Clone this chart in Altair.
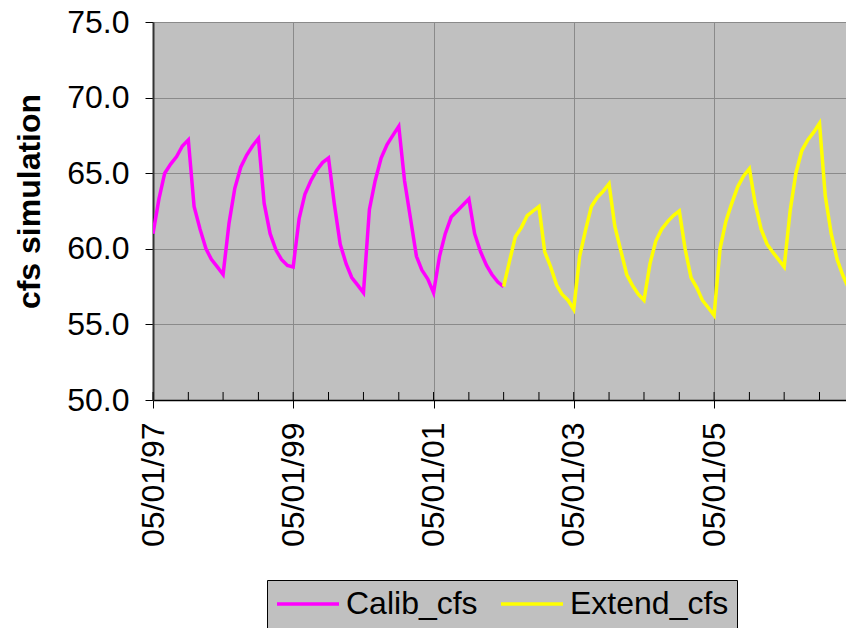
import altair as alt
import pandas as pd

# Monthly dates, May 1997 .. May 2007
dates = pd.date_range("1997-05-01", "2007-05-01", freq="MS").strftime("%Y-%m-%d").tolist()

calib_cfs = [
    61.0, 63.3, 65.0, 65.6, 66.1, 66.8, 67.2, 62.8, 61.3, 60.0, 59.3, 58.8,
    58.3, 61.7, 64.0, 65.4, 66.2, 66.8, 67.3, 63.0, 61.0, 59.9, 59.3, 58.9,
    58.8, 62.0, 63.6, 64.5, 65.2, 65.7, 66.0, 63.0, 60.3, 59.0, 58.1, 57.6,
    57.1, 62.6, 64.5, 66.0, 66.9, 67.5, 68.1, 64.5, 62.0, 59.5, 58.6, 58.0,
    57.1, 59.5, 61.0, 62.1, 62.5, 62.9, 63.3, 61.0, 59.8, 58.9, 58.3, 57.8,
    57.5,
]
extend_cfs = [
    57.5, 59.2, 60.8, 61.4, 62.2, 62.5, 62.8, 59.8, 58.8, 57.6, 57.0, 56.6,
    56.0, 59.5, 61.2, 62.8, 63.4, 63.8, 64.3, 61.5, 59.9, 58.3, 57.6, 57.0,
    56.6, 59.0, 60.5, 61.3, 61.8, 62.2, 62.5, 60.0, 58.1, 57.4, 56.6, 56.1,
    55.6, 60.0, 61.8, 63.0, 64.1, 64.8, 65.3, 63.0, 61.3, 60.3, 59.8, 59.3,
    58.8, 62.5, 65.0, 66.5, 67.2, 67.7, 68.3, 63.5, 61.0, 59.3, 58.3, 57.4,
    56.8,
]
series_names = ["Calib_cfs", "Extend_cfs"]
series_colors = ["#FF00FF", "#FFFF00"]
y_ticks = [50, 55, 60, 65, 70, 75]
x_label_dates = ["1997-05-01", "1999-05-01", "2001-05-01", "2003-05-01", "2005-05-01"]
minor_tick_dates = dates[::6]

rows = []
for d, v in zip(dates[:len(calib_cfs)], calib_cfs):
    rows.append({"date": d, "value": v, "series": series_names[0]})
for d, v in zip(dates[len(calib_cfs) - 1:], extend_cfs):
    rows.append({"date": d, "value": v, "series": series_names[1]})
df = pd.DataFrame(rows)
ticks_df = pd.DataFrame({"date": minor_tick_dates})

FONT = "Liberation Sans"

x_scale = alt.Scale(type="utc", domain=[alt.DateTime(year=1997, month=5, date=1, utc=True),
                                        alt.DateTime(year=2007, month=3, date=19, utc=True)])

x_vals = [alt.DateTime(year=int(s[:4]), month=int(s[5:7]), date=int(s[8:]), utc=True) for s in x_label_dates]

lines = alt.Chart(df).mark_line(strokeWidth=3.5, clip=True).encode(
    x=alt.X("date:T", scale=x_scale,
            axis=alt.Axis(values=x_vals, format="%m/%d/%y", labelAngle=270,
                          labelFontSize=32, labelFont=FONT, labelColor="black",
                          labelPadding=14, tickSize=8, tickColor="black",
                          domainColor="black", domainWidth=1.5,
                          grid=True, gridColor="#8a8a8a", gridWidth=1,
                          title=None, labelOverlap=False)),
    y=alt.Y("value:Q", scale=alt.Scale(domain=[50, 75], nice=False, zero=False),
            axis=alt.Axis(values=y_ticks, format=".1f", labelFontSize=32, labelFont=FONT,
                          labelColor="black", labelPadding=16, tickSize=8, tickColor="black",
                          domainColor="#333333", domainWidth=2,
                          grid=True, gridColor="#8a8a8a", gridWidth=1,
                          title="cfs simulation", titleFontSize=32, titleFont=FONT,
                          titleFontWeight="bold", titleColor="black",
                          titleAngle=270, titleAlign="center", titleBaseline="alphabetic",
                          titleX=-114, titleY=179)),
    color=alt.Color("series:N", scale=alt.Scale(domain=series_names, range=series_colors),
                    legend=alt.Legend(orient="none", legendX=114, legendY=558,
                                      direction="horizontal", title=None,
                                      fillColor="#C0C0C0", strokeColor="black",
                                      padding=8, symbolType="M-3,0H3", symbolSize=427,
                                      symbolOffset=17, gridAlign="none",
                                      symbolStrokeWidth=3.5, labelFontSize=32, labelFont=FONT,
                                      labelColor="black", labelOffset=22, columnPadding=16)),
    detail="series:N",
)

minor = alt.Chart(ticks_df).mark_rule(color="black", strokeWidth=1).encode(
    x=alt.X("date:T", scale=x_scale),
    y=alt.value(378),
    y2=alt.value(370),
)

chart = alt.layer(lines, minor).properties(
    width=693, height=378,
    padding={"left": 145, "top": 14, "right": 0, "bottom": 228},
    autosize=alt.AutoSizeParams(type="none"),
).configure_view(fill="#C0C0C0", strokeOpacity=0)

chart.save("out.html", embed_options={"renderer": "svg", "actions": False})
